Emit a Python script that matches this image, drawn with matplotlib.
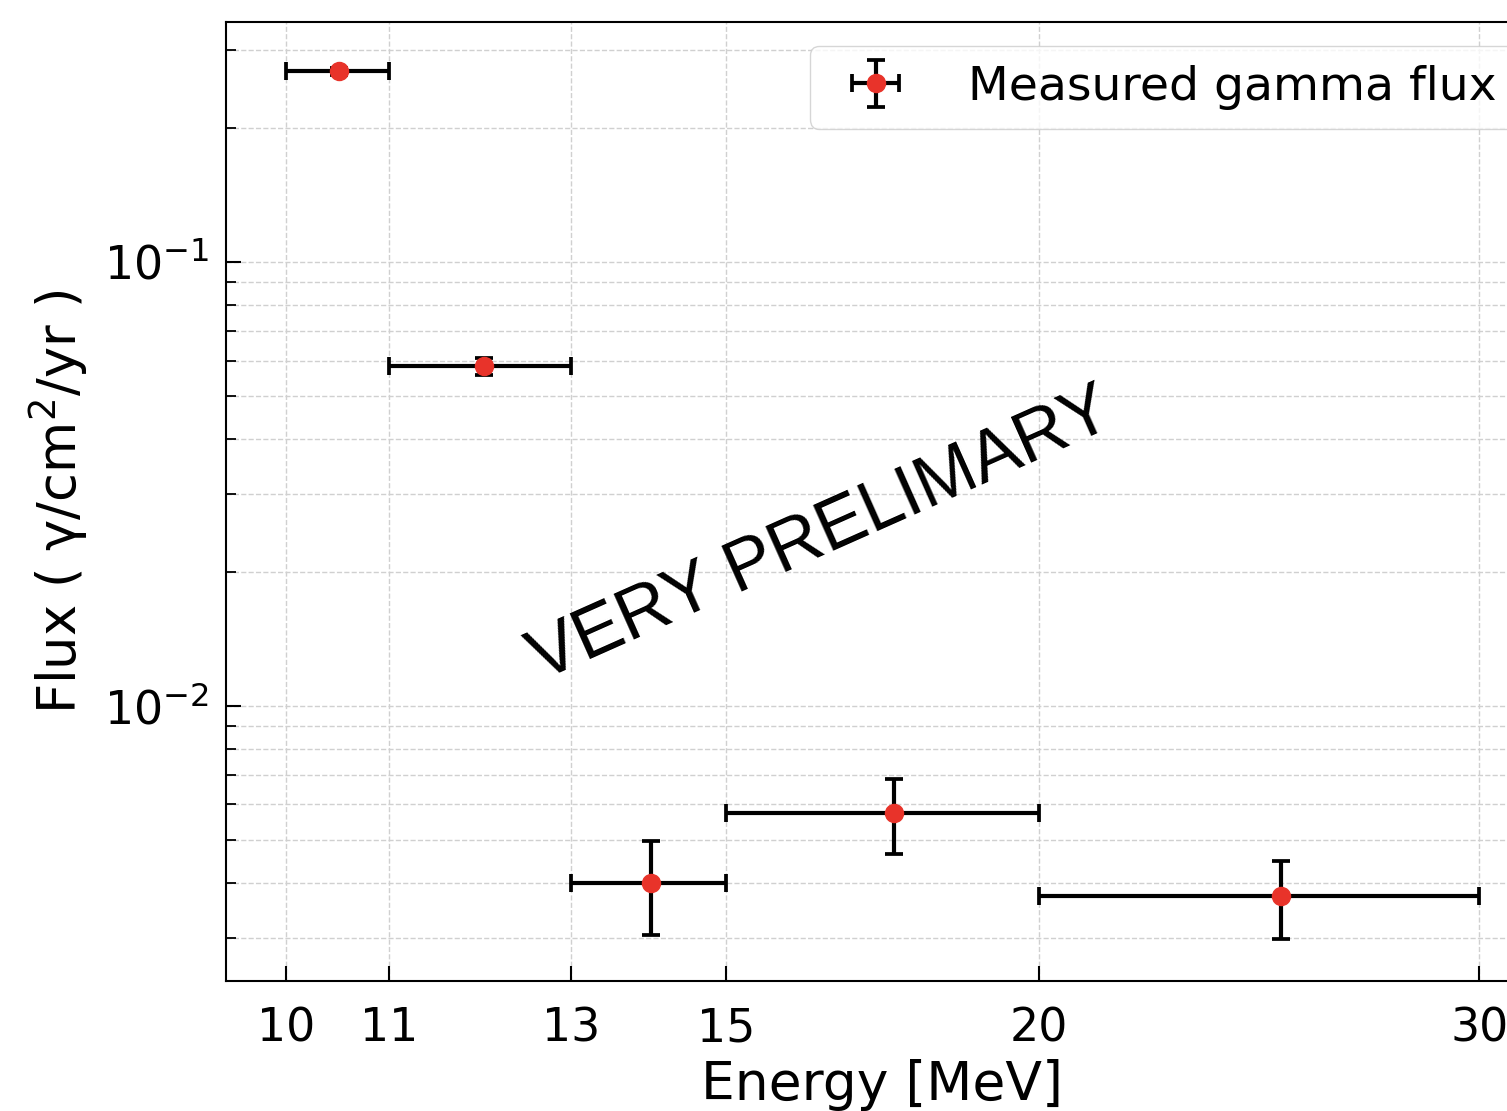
import numpy as np
import matplotlib
matplotlib.use("Agg")
import matplotlib.pyplot as plt
from matplotlib.ticker import FixedLocator, FixedFormatter, NullLocator

# energy bins [MeV]
energy_lo = [10, 11, 13, 15, 20]
energy_hi = [11, 13, 15, 20, 30]
energy_mid = [10.5, 12, 14, 17.5, 25]
# flux [gamma/cm2/yr]
flux = [0.269, 0.0583, 0.0040, 0.00574, 0.00373]
flux_err = [0.005, 0.0025, 0.00095, 0.0011, 0.00074]
xticks = [10, 11, 13, 15, 20, 30]

xerr = [np.array(energy_mid) - np.array(energy_lo),
        np.array(energy_hi) - np.array(energy_mid)]

fig = plt.figure(figsize=(15.07, 11.11), dpi=100)
ax = fig.add_axes([0.150, 0.117, 0.8712, 0.863])

ax.errorbar(energy_mid, flux, xerr=xerr, yerr=flux_err, fmt='o',
            color='#e8332a', ecolor='black', markersize=13,
            elinewidth=3, capsize=6.5, capthick=2.7,
            label='Measured gamma flux', zorder=3)

ax.set_xscale('log')
ax.set_yscale('log')
ax.set_ylim(0.0024, 0.347)

ax.xaxis.set_major_locator(FixedLocator(xticks))
ax.xaxis.set_major_formatter(FixedFormatter([str(t) for t in xticks]))
ax.xaxis.set_minor_locator(NullLocator())

ax.grid(True, which='major', ls='--', color='#d0d0d0', lw=1)
ax.grid(True, which='minor', axis='y', ls='--', color='#d0d0d0', lw=1)
ax.set_axisbelow(True)

ax.tick_params(which='major', direction='in', length=10.5, width=1.5,
               labelsize=33, pad=12)
ax.tick_params(axis='x', which='major', pad=18)
ax.tick_params(which='minor', direction='in', length=7, width=1.3)
for s in ax.spines.values():
    s.set_linewidth(1.5)

ax.set_xlabel('Energy [MeV]', fontsize=38.5, labelpad=6)
ax.set_ylabel('Flux ( γ/cm$^2$/yr )', fontsize=38, labelpad=10)

ax.legend(loc='upper right', fontsize=34, handletextpad=0.95,
          borderpad=0.4, edgecolor='#cccccc')

fig.text(0.545, 0.518, 'VERY PRELIMARY', rotation=24, fontsize=52,
         family='Liberation Sans', ha='center', va='center')

fig.savefig('out.png', dpi=100)
